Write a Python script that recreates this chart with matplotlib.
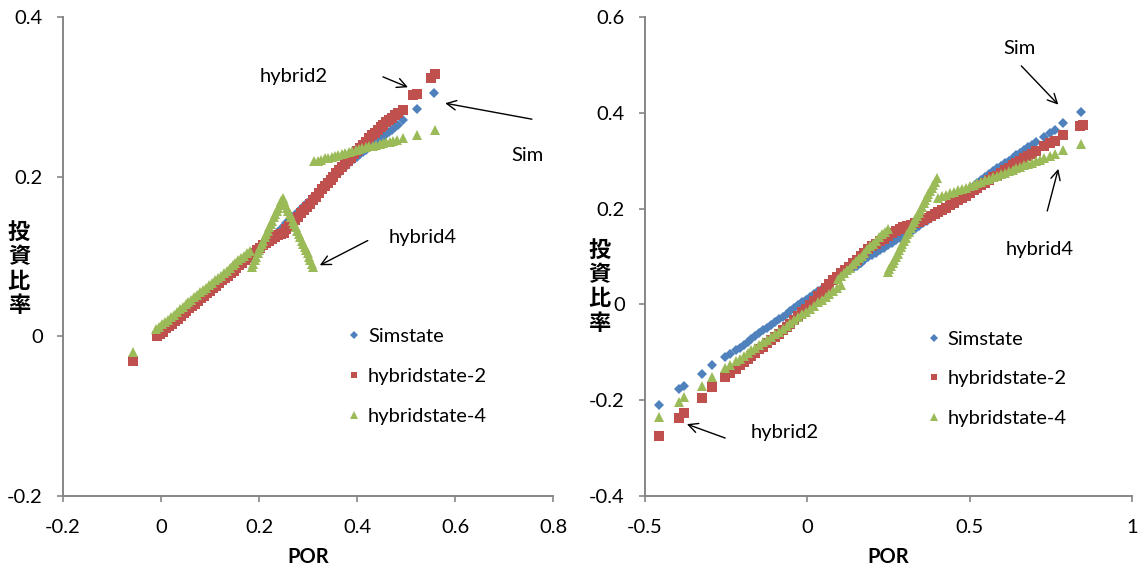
import matplotlib
matplotlib.use("Agg")
import matplotlib.pyplot as plt

plt.rcParams['font.family'] = ['Lato', 'DejaVu Sans']

# ---------------- data: left chart (x = POR, y = 投資比率) ----------------
sim_left = [
    (-0.057, -0.030),
    (-0.008, 0.002), (-0.002, 0.005), (0.004, 0.008), (0.010, 0.012), (0.016, 0.015),
    (0.022, 0.018), (0.028, 0.021), (0.034, 0.024), (0.040, 0.027), (0.046, 0.031),
    (0.052, 0.034), (0.058, 0.037), (0.064, 0.040), (0.070, 0.043), (0.076, 0.046),
    (0.082, 0.050), (0.088, 0.053), (0.094, 0.056), (0.100, 0.059), (0.106, 0.062),
    (0.112, 0.065), (0.118, 0.069), (0.124, 0.072), (0.130, 0.075), (0.136, 0.078),
    (0.142, 0.081), (0.148, 0.084), (0.154, 0.088), (0.160, 0.091), (0.166, 0.094),
    (0.172, 0.097), (0.178, 0.100), (0.184, 0.103), (0.190, 0.107), (0.196, 0.110),
    (0.202, 0.113), (0.208, 0.116), (0.214, 0.119), (0.220, 0.122), (0.226, 0.124),
    (0.232, 0.127), (0.238, 0.131), (0.244, 0.135), (0.250, 0.138), (0.256, 0.142),
    (0.262, 0.145), (0.268, 0.149), (0.274, 0.152), (0.280, 0.156), (0.286, 0.159),
    (0.292, 0.163), (0.298, 0.167), (0.304, 0.170), (0.310, 0.174), (0.316, 0.177),
    (0.322, 0.181), (0.328, 0.184), (0.334, 0.188), (0.340, 0.191), (0.346, 0.195),
    (0.352, 0.198), (0.358, 0.202), (0.364, 0.205), (0.370, 0.209), (0.376, 0.212),
    (0.382, 0.216), (0.388, 0.219), (0.394, 0.222), (0.400, 0.225), (0.406, 0.228),
    (0.412, 0.231), (0.418, 0.234), (0.424, 0.237), (0.430, 0.240), (0.436, 0.242),
    (0.442, 0.245), (0.448, 0.248), (0.454, 0.250), (0.460, 0.253), (0.466, 0.256),
    (0.472, 0.259), (0.478, 0.262), (0.484, 0.265),
    (0.493, 0.271), (0.522, 0.285), (0.558, 0.305),
]
hyb2_left = [
    (-0.057, -0.031),
    (-0.008, 0.000), (-0.002, 0.003), (0.004, 0.006), (0.010, 0.010), (0.016, 0.013),
    (0.022, 0.016), (0.028, 0.019), (0.034, 0.022), (0.040, 0.025), (0.046, 0.029),
    (0.052, 0.032), (0.058, 0.035), (0.064, 0.038), (0.070, 0.041), (0.076, 0.044),
    (0.082, 0.048), (0.088, 0.051), (0.094, 0.054), (0.100, 0.057), (0.106, 0.060),
    (0.112, 0.063), (0.118, 0.067), (0.124, 0.070), (0.130, 0.073), (0.136, 0.076),
    (0.142, 0.079), (0.148, 0.082), (0.154, 0.086), (0.160, 0.089), (0.166, 0.092),
    (0.172, 0.095), (0.178, 0.098), (0.184, 0.101), (0.190, 0.105), (0.196, 0.108),
    (0.202, 0.111), (0.208, 0.114), (0.214, 0.117), (0.220, 0.120), (0.226, 0.122),
    (0.232, 0.125), (0.238, 0.127), (0.244, 0.128), (0.250, 0.130), (0.256, 0.134),
    (0.262, 0.138), (0.268, 0.142), (0.274, 0.146), (0.280, 0.150), (0.286, 0.154),
    (0.292, 0.158), (0.298, 0.162), (0.304, 0.166), (0.310, 0.171), (0.316, 0.175),
    (0.322, 0.179), (0.328, 0.184), (0.334, 0.188), (0.340, 0.192), (0.346, 0.196),
    (0.352, 0.200), (0.358, 0.204), (0.364, 0.208), (0.370, 0.212), (0.376, 0.216),
    (0.382, 0.220), (0.388, 0.224), (0.394, 0.228), (0.400, 0.232), (0.406, 0.236),
    (0.412, 0.240), (0.418, 0.244), (0.424, 0.248), (0.430, 0.252), (0.436, 0.255),
    (0.442, 0.259), (0.448, 0.262), (0.454, 0.265), (0.460, 0.268), (0.466, 0.271),
    (0.472, 0.274), (0.478, 0.277), (0.484, 0.280),
    (0.493, 0.284), (0.515, 0.302), (0.522, 0.304), (0.552, 0.324), (0.559, 0.328),
]
hyb4_left = [
    (-0.057, -0.020),
    # lower band
    (-0.010, 0.009), (-0.004, 0.012), (0.002, 0.015), (0.008, 0.018), (0.014, 0.021),
    (0.020, 0.024), (0.026, 0.027), (0.032, 0.030), (0.038, 0.034), (0.044, 0.037),
    (0.050, 0.040), (0.056, 0.043), (0.062, 0.046), (0.068, 0.049), (0.074, 0.052),
    (0.080, 0.055), (0.086, 0.058), (0.092, 0.061), (0.098, 0.064), (0.104, 0.067),
    (0.110, 0.070), (0.116, 0.073), (0.122, 0.076), (0.128, 0.079), (0.134, 0.082),
    (0.140, 0.086), (0.146, 0.089), (0.152, 0.092), (0.158, 0.095), (0.164, 0.098),
    (0.170, 0.101), (0.176, 0.104), (0.182, 0.107),
    # rising leg
    (0.185, 0.087), (0.188, 0.091), (0.191, 0.095), (0.194, 0.099), (0.197, 0.104),
    (0.200, 0.108), (0.203, 0.112), (0.206, 0.116), (0.209, 0.120), (0.212, 0.124),
    (0.215, 0.128), (0.218, 0.132), (0.221, 0.137), (0.224, 0.141), (0.227, 0.145),
    (0.230, 0.149), (0.233, 0.153), (0.236, 0.157), (0.239, 0.161), (0.242, 0.165),
    (0.245, 0.169), (0.248, 0.173),
    # falling leg
    (0.251, 0.169), (0.254, 0.165), (0.257, 0.161), (0.260, 0.157), (0.263, 0.153),
    (0.266, 0.149), (0.269, 0.145), (0.272, 0.141), (0.275, 0.137), (0.278, 0.132),
    (0.281, 0.128), (0.284, 0.124), (0.287, 0.120), (0.290, 0.116), (0.293, 0.112),
    (0.296, 0.108), (0.299, 0.104), (0.302, 0.099), (0.305, 0.095), (0.308, 0.091),
    (0.311, 0.087),
    # upper band
    (0.313, 0.219), (0.320, 0.220), (0.327, 0.221), (0.334, 0.223), (0.341, 0.224),
    (0.348, 0.225), (0.355, 0.226), (0.362, 0.227), (0.369, 0.229), (0.376, 0.230),
    (0.383, 0.231), (0.390, 0.232), (0.397, 0.233), (0.404, 0.235), (0.411, 0.236),
    (0.418, 0.237), (0.425, 0.238), (0.432, 0.239), (0.439, 0.240), (0.446, 0.241),
    (0.453, 0.242), (0.460, 0.243), (0.467, 0.244), (0.474, 0.245), (0.481, 0.246),
    (0.493, 0.248), (0.522, 0.252), (0.559, 0.258),
]

# ---------------- data: right chart ----------------
sim_right = [
    (-0.458, -0.209), (-0.396, -0.177), (-0.381, -0.170), (-0.324, -0.145), (-0.294, -0.127),
    (-0.253, -0.110), (-0.237, -0.104),
    (-0.220, -0.096), (-0.208, -0.090), (-0.196, -0.084), (-0.184, -0.078), (-0.172, -0.072),
    (-0.160, -0.066), (-0.148, -0.060), (-0.136, -0.054), (-0.124, -0.049), (-0.112, -0.043),
    (-0.100, -0.037), (-0.088, -0.031), (-0.076, -0.026), (-0.064, -0.020), (-0.052, -0.014),
    (-0.040, -0.008), (-0.028, -0.002), (-0.016, 0.004), (-0.004, 0.010), (0.008, 0.016),
    (0.020, 0.021), (0.032, 0.027), (0.044, 0.033), (0.056, 0.038), (0.068, 0.044),
    (0.080, 0.049), (0.092, 0.054), (0.104, 0.060), (0.116, 0.065), (0.128, 0.071),
    (0.140, 0.076), (0.152, 0.081), (0.164, 0.087), (0.176, 0.092), (0.188, 0.098),
    (0.200, 0.103), (0.212, 0.108), (0.224, 0.113), (0.236, 0.118), (0.248, 0.123),
    (0.260, 0.129), (0.272, 0.134), (0.284, 0.138), (0.296, 0.143), (0.308, 0.147),
    (0.320, 0.151), (0.332, 0.157), (0.344, 0.163), (0.356, 0.169), (0.368, 0.174),
    (0.380, 0.180), (0.392, 0.186), (0.404, 0.192), (0.416, 0.198), (0.428, 0.204),
    (0.440, 0.210), (0.452, 0.216), (0.464, 0.223), (0.476, 0.229), (0.488, 0.235),
    (0.500, 0.241), (0.512, 0.247), (0.524, 0.254), (0.536, 0.260), (0.548, 0.266),
    (0.560, 0.272), (0.572, 0.278), (0.584, 0.284), (0.596, 0.289), (0.608, 0.295),
    (0.620, 0.300), (0.632, 0.306), (0.644, 0.311), (0.656, 0.317), (0.668, 0.322),
    (0.680, 0.328), (0.692, 0.333), (0.704, 0.339),
    (0.728, 0.349), (0.748, 0.357), (0.764, 0.364), (0.789, 0.378), (0.844, 0.402),
]
hyb2_right = [
    (-0.458, -0.275), (-0.396, -0.238), (-0.381, -0.226), (-0.324, -0.196), (-0.294, -0.173),
    (-0.253, -0.152), (-0.237, -0.144),
    (-0.220, -0.134), (-0.208, -0.127), (-0.196, -0.120), (-0.184, -0.114), (-0.172, -0.107),
    (-0.160, -0.101), (-0.148, -0.094), (-0.136, -0.088), (-0.124, -0.081), (-0.112, -0.075),
    (-0.100, -0.068), (-0.088, -0.061), (-0.076, -0.054), (-0.064, -0.047), (-0.052, -0.040),
    (-0.040, -0.032), (-0.028, -0.024), (-0.016, -0.016), (-0.004, -0.009), (0.008, -0.001),
    (0.020, 0.008), (0.032, 0.017), (0.044, 0.026), (0.056, 0.034), (0.068, 0.042),
    (0.080, 0.050), (0.092, 0.057), (0.104, 0.065), (0.116, 0.072), (0.128, 0.079),
    (0.140, 0.086), (0.152, 0.093), (0.164, 0.101), (0.176, 0.108), (0.188, 0.115),
    (0.200, 0.122), (0.212, 0.127), (0.224, 0.132), (0.236, 0.137), (0.248, 0.142),
    (0.260, 0.149), (0.272, 0.154), (0.284, 0.158), (0.296, 0.161), (0.308, 0.164),
    (0.320, 0.166), (0.332, 0.170), (0.344, 0.173), (0.356, 0.177), (0.368, 0.181),
    (0.380, 0.185), (0.392, 0.189), (0.404, 0.193), (0.416, 0.197), (0.428, 0.202),
    (0.440, 0.207), (0.452, 0.212), (0.464, 0.217), (0.476, 0.222), (0.488, 0.227),
    (0.500, 0.233), (0.512, 0.238), (0.524, 0.244), (0.536, 0.249), (0.548, 0.254),
    (0.560, 0.260), (0.572, 0.265), (0.584, 0.269), (0.596, 0.274), (0.608, 0.280),
    (0.620, 0.285), (0.632, 0.290), (0.644, 0.295), (0.656, 0.300), (0.668, 0.305),
    (0.680, 0.310), (0.692, 0.315), (0.704, 0.320),
    (0.728, 0.330), (0.748, 0.336), (0.764, 0.342), (0.789, 0.354), (0.840, 0.372),
    (0.848, 0.375),
]
hyb4_right = [
    (-0.458, -0.236), (-0.396, -0.203), (-0.381, -0.193), (-0.324, -0.170), (-0.294, -0.151),
    (-0.253, -0.133), (-0.237, -0.127),
    # lower band
    (-0.220, -0.118), (-0.208, -0.113), (-0.196, -0.107), (-0.184, -0.101), (-0.172, -0.096),
    (-0.160, -0.090), (-0.148, -0.085), (-0.136, -0.079), (-0.124, -0.074), (-0.112, -0.068),
    (-0.100, -0.062), (-0.088, -0.057), (-0.076, -0.051), (-0.064, -0.045), (-0.052, -0.039),
    (-0.040, -0.033), (-0.028, -0.027), (-0.016, -0.021), (-0.004, -0.015), (0.008, -0.009),
    (0.020, -0.003), (0.032, 0.004), (0.044, 0.010), (0.056, 0.016), (0.068, 0.022),
    (0.080, 0.028), (0.092, 0.034), (0.104, 0.040),
    # middle band
    (0.095, 0.053), (0.104, 0.059), (0.113, 0.065), (0.122, 0.071), (0.131, 0.077),
    (0.140, 0.084), (0.149, 0.090), (0.158, 0.096), (0.167, 0.102), (0.176, 0.108),
    (0.185, 0.115), (0.194, 0.121), (0.203, 0.127), (0.212, 0.133), (0.221, 0.140),
    (0.230, 0.146), (0.239, 0.152), (0.248, 0.158),
    # steep band
    (0.248, 0.067), (0.253, 0.074), (0.258, 0.080), (0.263, 0.087), (0.268, 0.093),
    (0.273, 0.100), (0.278, 0.106), (0.283, 0.113), (0.288, 0.119), (0.293, 0.126),
    (0.298, 0.133), (0.303, 0.139), (0.308, 0.146), (0.313, 0.152), (0.318, 0.159),
    (0.323, 0.165), (0.328, 0.172), (0.333, 0.178), (0.338, 0.185), (0.343, 0.191),
    (0.348, 0.198), (0.353, 0.204), (0.358, 0.211), (0.363, 0.217), (0.368, 0.224),
    (0.373, 0.230), (0.378, 0.237), (0.383, 0.243), (0.388, 0.250), (0.393, 0.256),
    (0.398, 0.263),
    # upper band
    (0.404, 0.223), (0.416, 0.226), (0.428, 0.229), (0.440, 0.232), (0.452, 0.235),
    (0.464, 0.238), (0.476, 0.241), (0.488, 0.244), (0.500, 0.247), (0.512, 0.250),
    (0.524, 0.253), (0.536, 0.256), (0.548, 0.259), (0.560, 0.262), (0.572, 0.265),
    (0.584, 0.269), (0.596, 0.272), (0.608, 0.275), (0.620, 0.278), (0.632, 0.281),
    (0.644, 0.284), (0.656, 0.287), (0.668, 0.290), (0.680, 0.293), (0.692, 0.296),
    (0.704, 0.299), (0.716, 0.302),
    (0.728, 0.305), (0.748, 0.310), (0.764, 0.315), (0.789, 0.322), (0.844, 0.335),
]

series_names = ["Simstate", "hybridstate-2", "hybridstate-4"]
left_xticks = [-0.2, 0, 0.2, 0.4, 0.6, 0.8]
left_xticklabels = ["-0.2", "0", "0.2", "0.4", "0.6", "0.8"]
left_yticks = [-0.2, 0, 0.2, 0.4]
left_yticklabels = ["-0.2", "0", "0.2", "0.4"]
right_xticks = [-0.5, 0, 0.5, 1]
right_xticklabels = ["-0.5", "0", "0.5", "1"]
right_yticks = [-0.4, -0.2, 0, 0.2, 0.4, 0.6]
right_yticklabels = ["-0.4", "-0.2", "0", "0.2", "0.4", "0.6"]
x_title = "POR"
y_title = "投\n資\n比\n率"

# ---------------- styling ----------------
BLUE, RED, GREEN = "#4F81BD", "#C0504D", "#9BBB59"
GRAY = "#868686"
FS = 14.5
styles = [
    dict(marker="D", ms=5.2, color=BLUE),
    dict(marker="s", ms=6.5, color=RED),
    dict(marker="^", ms=7.5, color=GREEN),
]

W, H = 1141, 567
fig = plt.figure(figsize=(W / 100, H / 100), dpi=100)
ax_l = fig.add_axes([63 / W, (H - 496) / H, 490 / W, 479 / H])
ax_r = fig.add_axes([645 / W, (H - 496) / H, 487 / W, 479 / H])


def setup(ax, xt, xtl, yt, ytl, xlim, ylim, ylab_xy):
    ax.set_xlim(*xlim)
    ax.set_ylim(*ylim)
    ax.set_xticks(xt)
    ax.set_xticklabels(xtl)
    ax.set_yticks(yt)
    ax.set_yticklabels(ytl)
    for s in ("top", "right"):
        ax.spines[s].set_visible(False)
    for s in ("left", "bottom"):
        ax.spines[s].set_color(GRAY)
        ax.spines[s].set_linewidth(1.4)
    ax.tick_params(axis="both", direction="out", length=4.5, width=1.2, color=GRAY,
                   labelsize=FS, labelcolor="black")
    ax.tick_params(axis="y", pad=10)
    ax.tick_params(axis="x", pad=12)
    ax.set_xlabel(x_title, fontsize=FS, fontweight="bold", labelpad=8)
    ax.set_ylabel(y_title, rotation=0, fontsize=16, fontweight="bold",
                  family=["Noto Sans CJK JP", "DejaVu Sans"], linespacing=1.08,
                  va="center", ha="center")
    ax.yaxis.set_label_coords(*ylab_xy)


def draw(ax, data_list):
    handles = []
    for data, st, name in zip(data_list, styles, series_names):
        xs = [p[0] for p in data]
        ys = [p[1] for p in data]
        h, = ax.plot(xs, ys, linestyle="none", marker=st["marker"], ms=st["ms"],
                     color=st["color"], markeredgewidth=0, label=name, clip_on=False)
        handles.append(h)
    return handles


setup(ax_l, left_xticks, left_xticklabels, left_yticks, left_yticklabels,
      (-0.2, 0.8), (-0.2, 0.4), (-0.090, 0.474))
setup(ax_r, right_xticks, right_xticklabels, right_yticks, right_yticklabels,
      (-0.5, 1.0), (-0.4, 0.6), (-0.094, 0.437))

hl = draw(ax_l, [sim_left, hyb2_left, hyb4_left])
hr = draw(ax_r, [sim_right, hyb2_right, hyb4_right])

leg_kw = dict(frameon=False, fontsize=FS, handlelength=0.6, handletextpad=0.38,
              labelspacing=1.12, borderpad=0, borderaxespad=0, loc="upper left",
              markerscale=0.75)
ax_l.legend(handles=hl, bbox_to_anchor=(0.582, 0.350), **leg_kw)
ax_r.legend(handles=hr, bbox_to_anchor=(0.581, 0.345), **leg_kw)

arrow = dict(arrowstyle="->", color="black", lw=1.0, shrinkA=0, shrinkB=0,
             mutation_scale=17)
# left annotations
ax_l.text(0.271, 0.325, "hybrid2", fontsize=FS, ha="center", va="center")
ax_l.annotate("", xy=(0.504, 0.312), xytext=(0.453, 0.325), arrowprops=arrow)
ax_l.text(0.747, 0.227, "Sim", fontsize=FS, ha="center", va="center")
ax_l.annotate("", xy=(0.580, 0.292), xytext=(0.757, 0.272), arrowprops=arrow)
ax_l.text(0.535, 0.124, "hybrid4", fontsize=FS, ha="center", va="center")
ax_l.annotate("", xy=(0.324, 0.089), xytext=(0.422, 0.120), arrowprops=arrow)
# right annotations
ax_r.text(0.653, 0.535, "Sim", fontsize=FS, ha="center", va="center")
ax_r.annotate("", xy=(0.773, 0.417), xytext=(0.659, 0.498), arrowprops=arrow)
ax_r.text(0.716, 0.115, "hybrid4", fontsize=FS, ha="center", va="center")
ax_r.annotate("", xy=(0.773, 0.283), xytext=(0.739, 0.195), arrowprops=arrow)
ax_r.text(-0.071, -0.268, "hybrid2", fontsize=FS, ha="center", va="center")
ax_r.annotate("", xy=(-0.371, -0.250), xytext=(-0.253, -0.279), arrowprops=arrow)

fig.savefig("out.png", dpi=100, facecolor="white")
